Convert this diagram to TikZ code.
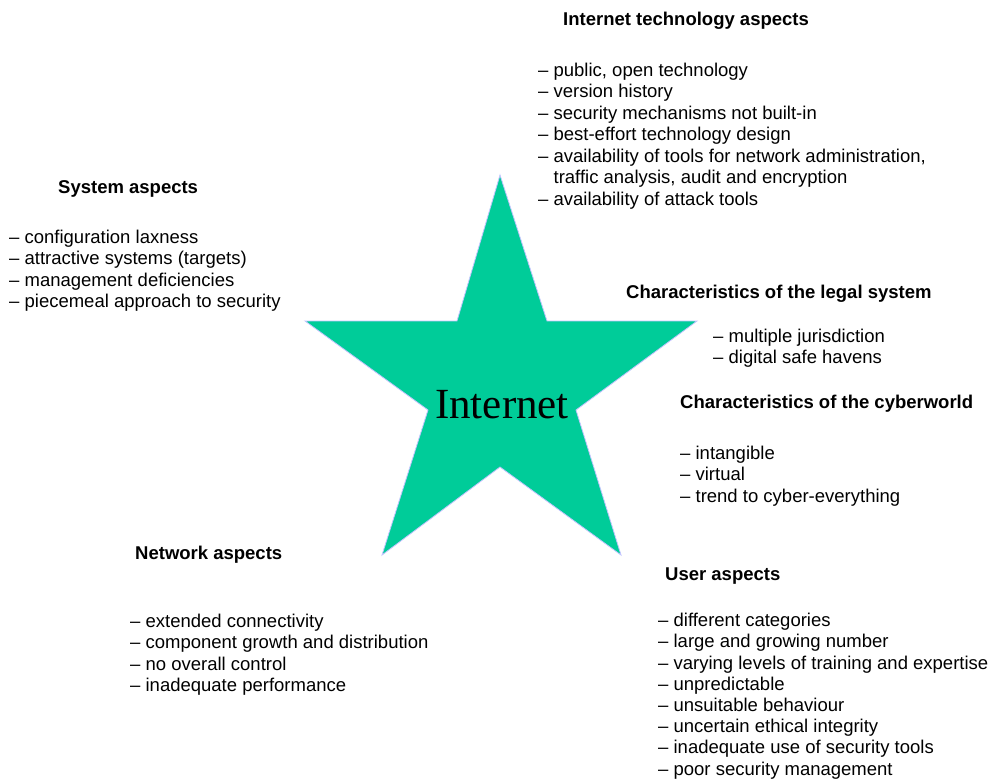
\documentclass[tikz,border=0pt]{standalone}
\usepackage{fontspec}
\setmainfont{Liberation Sans}
\newfontfamily\starfont{Liberation Serif}
\definecolor{starfill}{HTML}{00CC99}
\definecolor{starline}{HTML}{C4C4FF}
\tikzset{
  head/.style={anchor=base west, inner sep=0pt, font=\fontsize{18.5}{21.5}\selectfont\bfseries},
  items/.style={anchor=north west, inner sep=0pt, align=left, font=\fontsize{18.5}{21.5}\selectfont},
}
\newcommand{\dashind}{\phantom{– }}
\begin{document}
\begin{tikzpicture}[x=1pt,y=-1pt]
\useasboundingbox (0,0) rectangle (993,779);
% star
\filldraw[fill=starfill, draw=starline, line width=0.8pt]
  (500,175) coordinate (s1) -- (547,321) -- (697,321) -- (576,410) -- (621,555)
  -- (500,467) -- (382,555) -- (428,410) -- (305,321) -- (457,321) -- cycle;
\node[anchor=base, inner sep=0pt, font=\starfont\fontsize{43}{43}\selectfont] (inet) at (502,418) {Internet};
% Internet technology aspects
\node[head] (techh) at (563,25.5) {Internet technology aspects};
\node[items] (techi) at (538,62.5) {– public, open technology\\– version history\\– security mechanisms not built-in\\– best-effort technology design\\– availability of tools for network administration,\\\dashind traffic analysis, audit and encryption\\– availability of attack tools};
% System aspects
\node[head] (sysh) at (58,193.5) {System aspects};
\node[items] (sysi) at (9,229.5) {– configuration laxness\\– attractive systems (targets)\\– management deficiencies\\– piecemeal approach to security};
% Legal system
\node[head] (legh) at (626,298.5) {Characteristics of the legal system};
\node[items] (legi) at (713,328.5) {– multiple jurisdiction\\– digital safe havens};
% Cyberworld
\node[head] (cybh) at (680,408.5) {Characteristics of the cyberworld};
\node[items] (cybi) at (680,445.5) {– intangible\\– virtual\\– trend to cyber-everything};
% Network aspects
\node[head] (neth) at (135,559.5) {Network aspects};
\node[items] (neti) at (130,613.5) {– extended connectivity\\– component growth and distribution\\– no overall control\\– inadequate performance};
% User aspects
\node[head] (useh) at (665,580.5) {User aspects};
\node[items, font=\fontsize{18.5}{21.2}\selectfont] (usei) at (658,613) {– different categories\\– large and growing number\\– varying levels of training and expertise\\– unpredictable\\– unsuitable behaviour\\– uncertain ethical integrity\\– inadequate use of security tools\\– poor security management};
\end{tikzpicture}
\end{document}
